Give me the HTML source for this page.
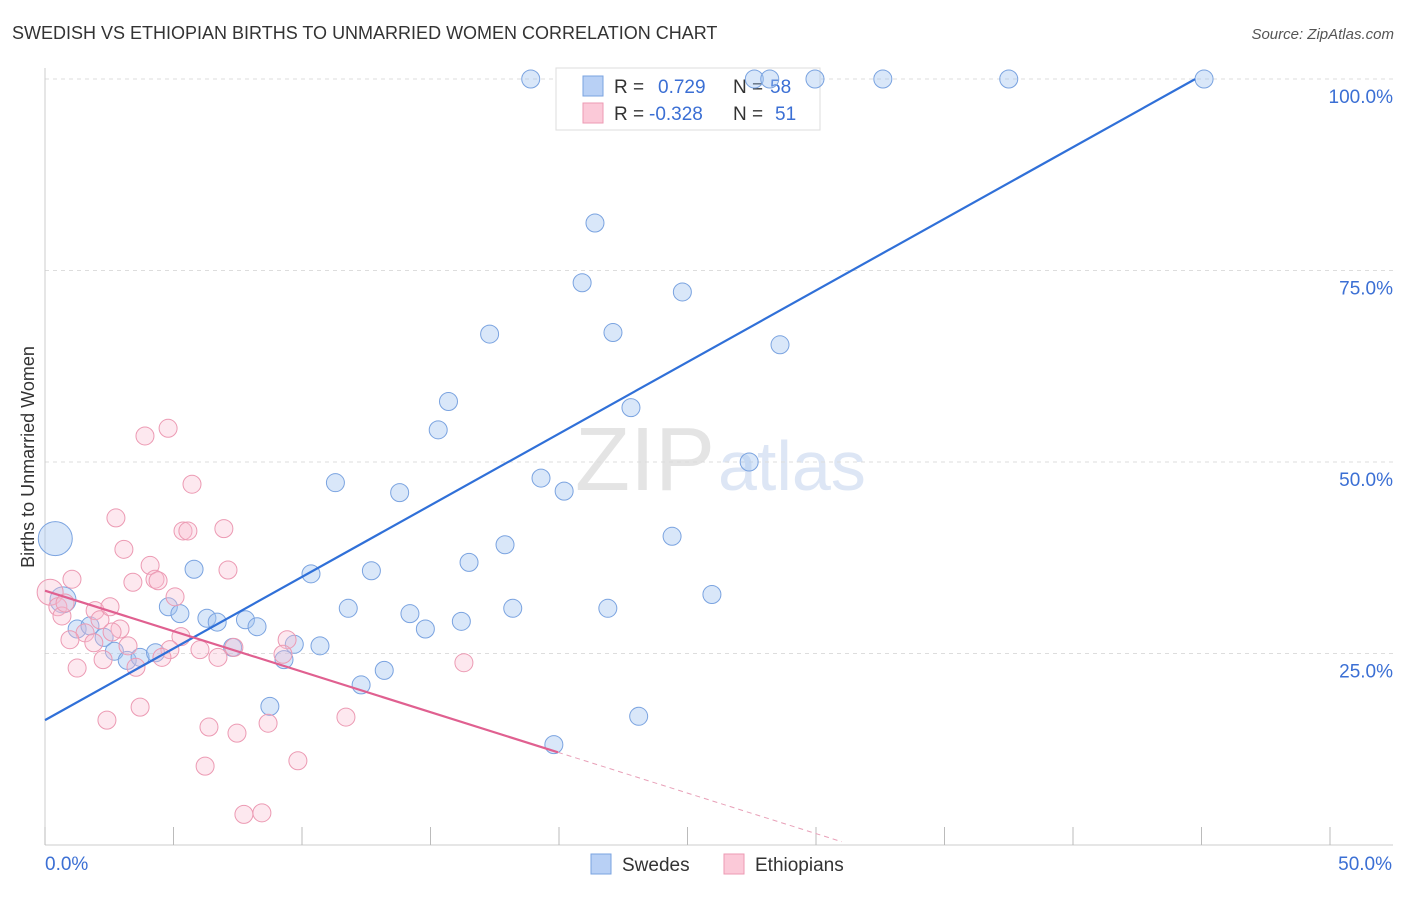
<!DOCTYPE html>
<html><head><meta charset="utf-8">
<style>
body{margin:0;background:#fff;font-family:"Liberation Sans",sans-serif;}
svg text{font-family:"Liberation Sans",sans-serif;}
</style></head>
<body>
<svg id="chart" width="1406" height="892" xmlns="http://www.w3.org/2000/svg">
<text x="12" y="39" font-size="18" fill="#333">SWEDISH VS ETHIOPIAN BIRTHS TO UNMARRIED WOMEN CORRELATION CHART</text>
<text x="1394" y="39" font-size="15" fill="#555" font-style="italic" text-anchor="end">Source: ZipAtlas.com</text>
<text x="0" y="0" transform="translate(34,457) rotate(-90)" font-size="18" fill="#333" text-anchor="middle">Births to Unmarried Women</text>
<g><text x="715" y="490" font-size="90" fill="#e4e4e4" font-family="Liberation Serif" text-anchor="end">ZIP</text><text x="718" y="490" font-size="70" fill="#dde6f5">atlas</text></g>
<g id="grid"></g><g id="axes"></g>
<g>
<rect x="556" y="68" width="264" height="62" fill="#fff" stroke="#ddd"/>
<rect x="583" y="76" width="20" height="20" fill="#b8d0f5" stroke="#7aa3e0"/>
<text x="614" y="93" font-size="19" fill="#333">R = </text><text x="658" y="93" font-size="19" fill="#3b6fd4">0.729</text>
<text x="733" y="93" font-size="19" fill="#333">N = </text><text x="770" y="93" font-size="19" fill="#3b6fd4">58</text>
<rect x="583" y="103" width="20" height="20" fill="#fbc9d8" stroke="#ec9ab3"/>
<text x="614" y="120" font-size="19" fill="#333">R = </text><text x="649" y="120" font-size="19" fill="#3b6fd4">-0.328</text>
<text x="733" y="120" font-size="19" fill="#333">N = </text><text x="775" y="120" font-size="19" fill="#3b6fd4">51</text>
</g>
<g id="pts"></g><g id="lines"></g>
<g>
<rect x="591" y="854" width="20" height="20" fill="#b8d0f5" stroke="#7aa3e0"/><text x="622" y="871" font-size="19" fill="#333">Swedes</text>
<rect x="724" y="854" width="20" height="20" fill="#fbc9d8" stroke="#ec9ab3"/><text x="755" y="871" font-size="19" fill="#333">Ethiopians</text>
</g>
</svg>
<script>
const xTicks=[0,5,10,15,20,25,30,35,40,45,50];
const yTicks=[25,50,75,100];
const swedesX=[18.9,27.6,28.2,29.96,32.6,37.5,45.1,21.4,20.9,24.8,17.3,22.1,28.6,15.7,22.8,15.3,27.4,11.3,13.8,19.3,20.2,17.9,24.4,16.5,5.8,10.35,12.7,25.95,4.8,11.8,14.2,18.2,21.9,5.25,6.3,6.7,7.8,8.25,14.8,16.2,9.7,10.7,7.3,2.3,1.25,1.75,2.7,3.2,3.7,4.3,9.3,13.2,12.3,8.75,23.1,19.8,0.4,0.7];
const swedesY=[100,100,100,100,100,100,100,81.2,73.4,72.2,66.7,66.9,65.3,57.9,57.1,54.2,50,47.3,46,47.9,46.2,39.2,40.3,36.9,36,35.4,35.8,32.7,31.1,30.9,30.2,30.9,30.9,30.2,29.6,29.1,29.4,28.5,28.2,29.2,26.2,26,25.8,27.1,28.2,28.6,25.3,24.1,24.5,25.1,24.2,22.8,20.9,18.1,16.8,13.1,40,32];
const swedesR=[9,9,9,9,9,9,9,9,9,9,9,9,9,9,9,9,9,9,9,9,9,9,9,9,9,9,9,9,9,9,9,9,9,9,9,9,9,9,9,9,9,9,9,9,9,9,9,9,9,9,9,9,9,9,9,9,17,13];
const ethX=[0.2,0.5,0.66,1.05,0.78,1.56,0.97,1.25,1.95,2.14,2.53,1.9,2.26,2.76,3.07,3.42,2.92,3.23,3.54,3.7,2.41,3.89,4.79,4.09,4.28,4.4,5.06,5.29,4.86,4.55,5.72,5.37,5.56,6.96,7.12,6.03,6.73,7.35,6.38,6.23,7.47,7.74,8.44,8.68,9.42,9.26,9.84,11.71,16.3,2.61];
const ethY=[33,31.1,29.9,34.7,31.6,27.7,26.8,23.1,30.6,29.4,31.1,26.4,24.2,42.7,38.6,34.3,28.2,26,23.2,18,16.3,53.4,54.4,36.5,34.7,34.5,32.4,27.2,25.5,24.5,47.1,41,41,41.3,35.9,25.5,24.5,25.8,15.4,10.3,14.6,4,4.2,15.9,26.8,24.9,11,16.7,23.8,27.8];
const ethR=[13,9,9,9,9,9,9,9,9,9,9,9,9,9,9,9,9,9,9,9,9,9,9,9,9,9,9,9,9,9,9,9,9,9,9,9,9,9,9,9,9,9,9,9,9,9,9,9,9,9];
const blueLine=[16.3,1.87,0,44.75];
const pinkLine=[33.2,-1.057,0,19.96,31];
const X=v=>45+v*25.7, Y=v=>845-v*7.66;
const NS="http://www.w3.org/2000/svg";
function mk(t,a,p){const e=document.createElementNS(NS,t);for(const k in a)e.setAttribute(k,a[k]);document.getElementById(p).appendChild(e);return e;}
yTicks.forEach(t=>{
 const g=mk('line',{x1:45,x2:1393,y1:Y(t),y2:Y(t),stroke:'#ddd','stroke-dasharray':'4,4'},'grid');
 
 
 const l=mk('text',{x:1393,y:Y(t)+24,'font-size':19,fill:'#3b6fd4','text-anchor':'end'},'axes');l.textContent=t.toFixed(1)+'%';
 
 
});
mk('line',{x1:45,x2:45,y1:68,y2:845,stroke:'#ccc'},'axes');
mk('line',{x1:45,x2:1393,y1:845,y2:845,stroke:'#ccc'},'axes');
xTicks.forEach(t=>{
 const k=mk('line',{x1:X(t),x2:X(t),y1:827,y2:845,stroke:'#bbb'},'axes');
 
 
});
[[0,'start'],[50,'end']].forEach(([t,a])=>{
 const l=mk('text',{x:X(t)+(t?62:0),y:870,'font-size':19,fill:'#3b6fd4','text-anchor':a},'axes');l.textContent=t.toFixed(1)+'%';
 
 
});
swedesX.forEach((v,i)=>{
 const c=mk('circle',{cx:X(v),cy:Y(swedesY[i]),r:swedesR[i],fill:'rgba(160,195,240,0.4)',stroke:'#7aa3e0','stroke-width':1},'pts');
 
 
});
ethX.forEach((v,i)=>{
 const c=mk('circle',{cx:X(v),cy:Y(ethY[i]),r:ethR[i],fill:'rgba(250,190,210,0.35)',stroke:'#ec9ab3','stroke-width':1},'pts');
 
 
});
const bl=mk('line',{x1:X(blueLine[2]),y1:Y(blueLine[0]),x2:X(blueLine[3]),y2:Y(blueLine[0]+blueLine[1]*blueLine[3]),stroke:'#3070d8','stroke-width':2.2},'lines');


const pl=mk('line',{x1:X(pinkLine[2]),y1:Y(pinkLine[0]),x2:X(pinkLine[3]),y2:Y(pinkLine[0]+pinkLine[1]*pinkLine[3]),stroke:'#e06090','stroke-width':2.2},'lines');


const pd=mk('line',{x1:X(pinkLine[3]),y1:Y(pinkLine[0]+pinkLine[1]*pinkLine[3]),x2:X(pinkLine[4]),y2:Y(pinkLine[0]+pinkLine[1]*pinkLine[4]),stroke:'#e8a0b8','stroke-width':1,'stroke-dasharray':'5,4'},'lines');


</script>
</body></html>
